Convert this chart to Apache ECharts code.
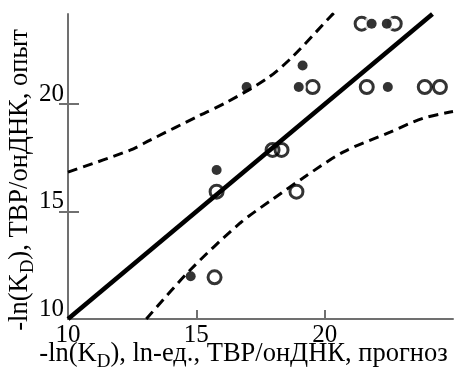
<!DOCTYPE html>
<html>
<head>
<meta charset="utf-8">
<script src="https://cdn.jsdelivr.net/npm/echarts@6/dist/echarts.min.js"></script>
<style>
    html, body { margin: 0; padding: 0; background: #fff; }
    #chart { width: 455px; height: 370px; }
</style>
</head>
<body>
<div id="chart"></div>
<script>
// predicted vs experimental -ln(KD)
const fitLine = [[10, 10], [24.2, 24.2]];
const upperBand = [[10, 16.84], [12.42, 17.86], [13.2, 18.33], [15.15, 19.49], [16.12, 20.05],
    [17.76, 21.2], [18.73, 22.19], [20.2, 24.05], [20.4, 24.3]];
const lowerBand = [[13.05, 10], [14.76, 12.28], [16.71, 14.47], [18.0, 15.6], [19.2, 16.6],
    [20.72, 17.77], [22.55, 18.7], [23.84, 19.35], [25, 19.66]];
const openPoints = [[19.53, 20.8], [21.44, 23.75], [22.73, 23.75], [21.64, 20.8], [23.9, 20.8],
    [24.49, 20.8], [17.97, 17.87], [18.32, 17.87], [15.79, 15.93], [18.9, 15.93], [15.71, 11.94]];
const filledPoints = [[16.96, 20.8], [19.14, 21.8], [18.99, 20.8], [21.83, 23.75], [22.42, 23.75],
    [22.46, 20.8], [15.79, 16.94], [14.78, 11.99]];
const tickLabels = [10, 15, 20];
const tickMarks = [15, 20];

document.addEventListener('DOMContentLoaded', () => {
    const chart = echarts.init(document.getElementById('chart'));
    const font = 'Liberation Serif';
    const axisColor = '#707070';

    const nameRich = {
        a: { fontFamily: font, fontSize: 26.5, lineHeight: 26, color: '#000', verticalAlign: 'top' },
        s: { fontFamily: font, fontSize: 19, lineHeight: 19, color: '#000', verticalAlign: 'top', padding: [12, 0, 0, 0] }
    };

    const option = {
        backgroundColor: '#fff',
        animation: false,
        grid: { left: 68, right: 2, top: 14, bottom: 51, outerBoundsMode: 'none', containLabel: false },
        xAxis: {
            type: 'value',
            min: 10,
            max: 25,
            interval: 5,
            name: '{a|-ln(K}{s|D}{a|), ln-ед., ТВР/онДНК, прогноз}',
            nameLocation: 'middle',
            nameGap: 22,
            nameMoveOverlap: false,
            nameTextStyle: { rich: nameRich, padding: [0, 34, 0, 0] },
            axisLine: { lineStyle: { color: axisColor, width: 2 } },
            axisTick: { inside: true, length: 9, customValues: tickMarks, lineStyle: { color: axisColor, width: 2 } },
            axisLabel: { customValues: tickLabels, margin: 4, fontFamily: font, fontSize: 25, lineHeight: 25, color: '#000' },
            splitLine: { show: false }
        },
        yAxis: [{
            type: 'value',
            min: 10,
            max: 24.2,
            interval: 5,
            name: '{a|-ln(K}{s|D}{a|), ТВР/онДНК, опыт}',
            nameLocation: 'middle',
            nameGap: 35,
            nameMoveOverlap: false,
            nameTextStyle: { rich: nameRich, padding: [0, 27, 0, 0] },
            axisLine: { lineStyle: { color: axisColor, width: 2 } },
            axisTick: { inside: true, length: 11, customValues: tickMarks, lineStyle: { color: axisColor, width: 2 } },
            axisLabel: { customValues: tickLabels, margin: 4, fontFamily: font, fontSize: 25, lineHeight: 20, verticalAlign: 'bottom', color: '#000' },
            splitLine: { show: false }
        }, {
            // outer half of the y ticks
            type: 'value',
            position: 'left',
            min: 10,
            max: 24.2,
            interval: 5,
            axisLine: { show: false },
            axisTick: { show: true, length: 9, customValues: tickMarks, lineStyle: { color: axisColor, width: 2 } },
            axisLabel: { show: false },
            splitLine: { show: false }
        }],
        series: [
            {
                type: 'line',
                data: fitLine,
                symbol: 'none',
                lineStyle: { color: '#000', width: 4.5 }
            },
            {
                type: 'line',
                data: upperBand,
                symbol: 'none',
                smooth: 0.3,
                lineStyle: { color: '#000', width: 3, type: [10, 6] }
            },
            {
                type: 'line',
                data: lowerBand,
                symbol: 'none',
                smooth: 0.3,
                lineStyle: { color: '#000', width: 3, type: [10, 6] }
            },
            {
                type: 'scatter',
                data: openPoints,
                symbol: 'circle',
                symbolSize: 13,
                itemStyle: { color: 'rgba(255,255,255,0)', borderColor: '#000', borderWidth: 3 }
            },
            {
                // white halo around the filled dots
                type: 'scatter',
                data: filledPoints,
                symbol: 'circle',
                symbolSize: 15,
                itemStyle: { color: '#fff' }
            },
            {
                type: 'scatter',
                data: filledPoints,
                symbol: 'circle',
                symbolSize: 10,
                itemStyle: { color: '#000' }
            }
        ]
    };

    chart.setOption(option);
});
</script>
</body>
</html>
